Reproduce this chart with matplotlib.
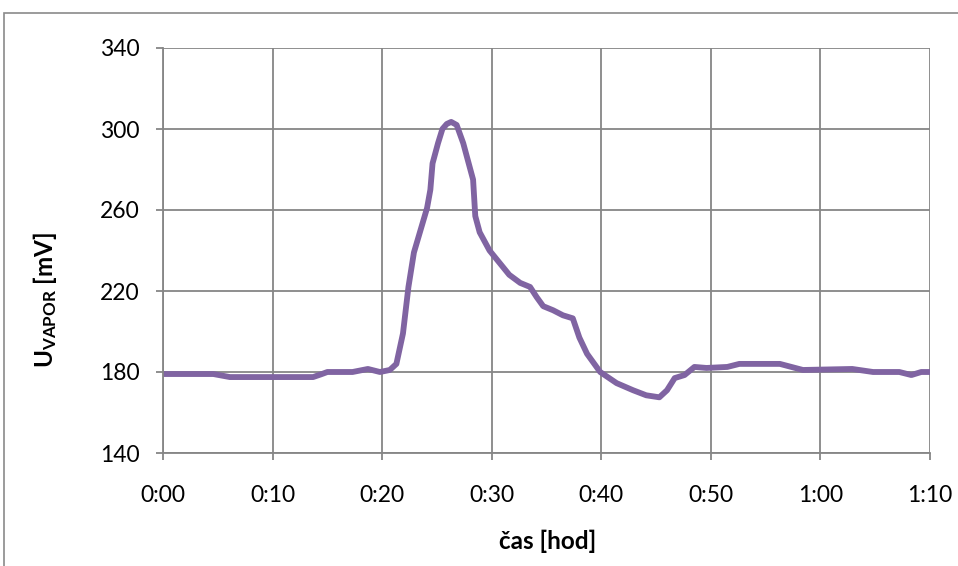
import matplotlib

matplotlib.use("Agg")
import matplotlib.pyplot as plt
from matplotlib.patches import Rectangle

# time in minutes, voltage in mV
time_min = [0, 4.6, 5.4, 6.1, 13.7, 14.4, 15.0, 17.3, 18.7, 19.8, 20.7, 21.3, 21.9,
            22.4, 22.9, 23.5, 24.1, 24.4, 24.6, 25.1, 25.5, 25.9, 26.3, 26.8,
            27.4, 28.0, 28.3, 28.5, 28.9, 29.8, 30.7, 31.6, 32.6, 33.5, 34.1,
            34.7, 35.6, 36.5, 37.4, 38.0, 38.7, 39.9, 41.4, 42.9, 44.1, 45.3,
            46.0, 46.7, 47.6, 48.5, 49.6, 51.5, 52.6, 56.3, 58.4, 62.9, 64.8,
            67.2, 68.3, 69.2, 70.0]
u_vapor = [179, 179, 178.2, 177.5, 177.5, 178.8, 180, 180, 181.5, 180, 181, 184, 199,
           222, 239, 250, 261, 270, 283, 293, 300, 302.5, 303.5, 302,
           293, 281, 275, 257, 249, 240, 234, 228, 224, 222, 217,
           212.5, 210.5, 208, 206.5, 197, 189, 180, 174.5, 171, 168.5, 167.5,
           171, 177, 178.5, 182.5, 182, 182.5, 184, 184, 181, 181.5, 180,
           180, 178.5, 180, 180]

x_ticks = [0, 10, 20, 30, 40, 50, 60, 70]
x_labels = ["0:00", "0:10", "0:20", "0:30", "0:40", "0:50", "1:00", "1:10"]
y_ticks = [140, 180, 220, 260, 300, 340]

plt.rcParams["font.family"] = ["Lato", "DejaVu Sans"]
plt.rcParams["mathtext.fontset"] = "custom"
plt.rcParams["mathtext.rm"] = "Lato:bold"
plt.rcParams["mathtext.bf"] = "Lato:bold"
plt.rcParams["mathtext.default"] = "bf"

grid_col = "#868686"

fig = plt.figure(figsize=(9.58, 5.66), dpi=100)
ax = fig.add_axes([163 / 958, 1 - 453 / 566, (930 - 163) / 958, (453 - 48) / 566])

ax.plot(time_min, u_vapor, color="#8064A2", linewidth=4.2,
        solid_capstyle="round", solid_joinstyle="round")

ax.set_xlim(0, 70)
ax.set_ylim(140, 340)
ax.set_xticks(x_ticks)
ax.set_xticklabels(x_labels)
ax.set_yticks(y_ticks)
ax.grid(True, color=grid_col, linewidth=1.3)
for side in ["top", "right"]:
    ax.spines[side].set_visible(False)
for side in ["left", "bottom"]:
    ax.spines[side].set_color(grid_col)
    ax.spines[side].set_linewidth(1.3)
ax.tick_params(axis="both", colors=grid_col, length=5, width=1.3, labelsize=16.5,
               labelcolor="black")
ax.tick_params(axis="y", pad=12)
ax.tick_params(axis="x", pad=18)

fig.text(548 / 958, 1 - 541 / 566, "čas [hod]", ha="center", va="center",
         fontsize=17.5, fontweight="bold")
fig.text(45 / 958, 1 - 300 / 566, r"U$_{VAPOR}$ [mV]", ha="center", va="center",
         fontsize=17.5, fontweight="bold", rotation=90)

# outer chart-area border (cut off at right and bottom)
fig.patches.append(Rectangle((4 / 958, -0.1), 1.1, 1.1 - 13 / 566,
                             transform=fig.transFigure, fill=False,
                             edgecolor="#8a8a8a", linewidth=1.2))

fig.savefig("out.png", dpi=100, facecolor="white")
